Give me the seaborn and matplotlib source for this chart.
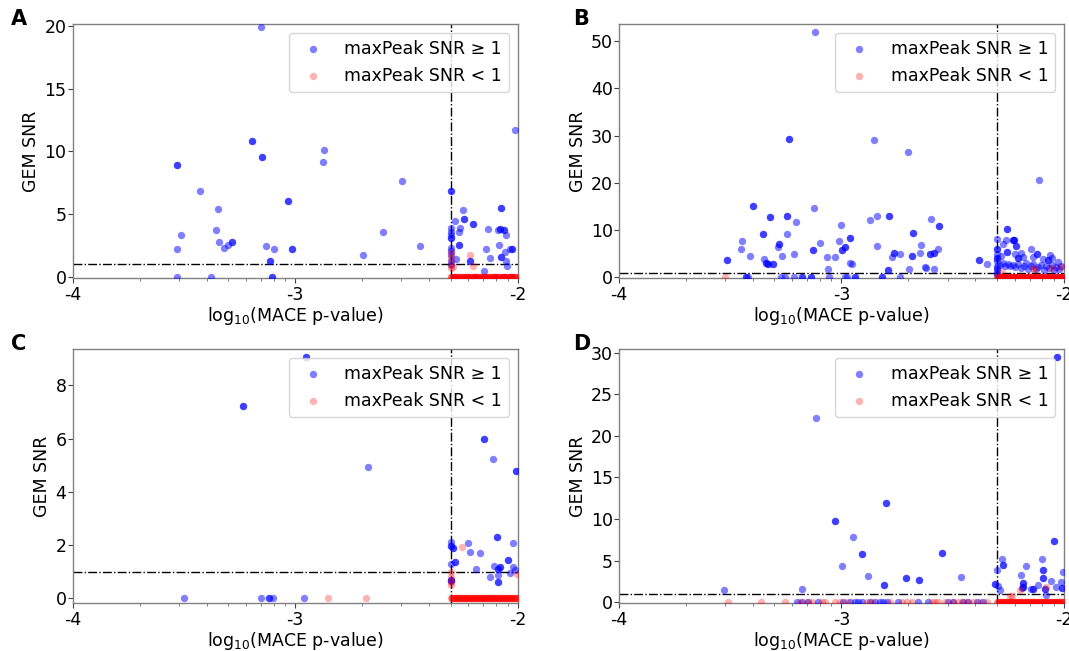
import numpy as np
import matplotlib
matplotlib.use("Agg")
import matplotlib.pyplot as plt
import seaborn as sns
from matplotlib.ticker import FuncFormatter, LogLocator, NullFormatter

sns.set_style("white")
plt.rcParams['font.family'] = ['DejaVu Sans']
plt.rcParams['axes.unicode_minus'] = False
plt.rcParams['text.color'] = 'black'
plt.rcParams['axes.labelcolor'] = 'black'
plt.rcParams['xtick.color'] = 'black'
plt.rcParams['ytick.color'] = 'black'

# ---------------- data (x = log10 MACE p-value, y = GEM SNR) ----------------
# Panel A
A_hi_lp = [-3.533, -3.533, -3.533, -3.533, -3.512, -3.426, -3.378, -3.356, -3.348, -3.344,
           -3.321, -3.303, -3.285, -3.285, -3.194, -3.194, -3.152, -3.149, -3.149, -3.131,
           -3.115, -3.115, -3.106, -3.106, -3.094, -3.031, -3.031, -3.016, -3.016, -2.875,
           -2.870, -2.695, -2.607, -2.521, -2.440,
           -2.300, -2.300, -2.300, -2.300, -2.300, -2.300, -2.300, -2.300, -2.299, -2.300,
           -2.300, -2.300,
           -2.282, -2.264, -2.258, -2.264, -2.264, -2.279, -2.244, -2.241, -2.241, -2.201,
           -2.201, -2.214, -2.214, -2.144, -2.132, -2.125, -2.153, -2.084, -2.087, -2.080,
           -2.080, -2.075, -2.075, -2.075, -2.075, -2.062, -2.062, -2.058, -2.053, -2.053,
           -2.048, -2.036, -2.025, -2.025, -2.012,
           -2.280, -2.230, -2.190, -2.150, -2.100, -2.060, -2.030]
A_hi_snr = [8.94, 8.94, 2.20, 0.00, 3.33, 6.88, 0.00, 3.74, 5.42, 2.79,
            2.28, 2.52, 2.76, 2.76, 10.84, 10.84, 19.92, 9.54, 9.54, 2.47,
            1.27, 1.27, 0.00, 0.00, 2.22, 6.02, 6.02, 2.25, 2.25, 9.16,
            10.14, 1.71, 3.58, 7.62, 2.47,
            6.86, 6.86, 3.85, 3.60, 3.30, 3.05, 3.05, 2.30, 2.05, 1.70,
            1.25, 0.90,
            4.42, 3.58, 3.85, 2.52, 2.52, 1.38, 5.34, 4.61, 4.61, 4.23,
            4.23, 1.22, 1.22, 2.25, 3.79, 1.46, 0.46, 2.52, 3.74, 3.79,
            3.79, 5.50, 5.50, 1.54, 1.54, 3.69, 3.69, 1.98, 3.33, 1.22,
            0.89, 2.20, 2.20, 2.20, 11.73,
            0.0, 0.0, 0.0, 0.0, 0.0, 0.0, 0.0]
A_lo_lp = [-2.216, -2.199, -2.300, -2.300, -2.300, -2.300, -2.289,
           -2.300, -2.294, -2.287, -2.281, -2.274, -2.266, -2.259, -2.252, -2.246, -2.238,
           -2.231, -2.224, -2.217, -2.210, -2.203, -2.196, -2.188, -2.181, -2.174, -2.167,
           -2.160, -2.153, -2.146, -2.139, -2.131, -2.124, -2.117, -2.110, -2.102, -2.095,
           -2.088, -2.081, -2.074, -2.066, -2.059, -2.052, -2.045, -2.038, -2.031, -2.024,
           -2.017, -2.010, -2.004,
           -2.298, -2.291, -2.284, -2.277, -2.270, -2.262, -2.255, -2.249, -2.242, -2.235,
           -2.227, -2.220, -2.213, -2.206, -2.199, -2.192, -2.185, -2.177, -2.170, -2.163,
           -2.157, -2.149, -2.142, -2.135, -2.128, -2.120, -2.113, -2.106, -2.099, -2.091,
           -2.084, -2.077, -2.070, -2.063, -2.056, -2.048, -2.041, -2.034, -2.027, -2.020,
           -2.013, -2.006]
A_lo_snr = [1.71, 0.89, 1.90, 1.50, 1.00, 0.70, 0.80] + [0.0] * 85

# Panel B
B_hi_lp = [-3.516, -3.516, -3.452, -3.447, -3.413, -3.399, -3.399, -3.353, -3.353, -3.350,
           -3.341, -3.341, -3.332, -3.332, -3.323, -3.323, -3.306, -3.306, -3.284, -3.282,
           -3.282, -3.266, -3.245, -3.245, -3.243, -3.237, -3.237, -3.215, -3.203,
           -3.431, -3.431, -3.419, -3.270, -3.254, -3.214, -3.176, -3.176, -3.139, -3.139,
           -3.127, -3.127, -3.122, -3.118, -3.098, -3.067, -3.062, -3.058, -3.030, -3.013,
           -3.002, -2.998, -2.998, -2.985, -2.985, -2.976, -2.985, -2.961, -2.961, -2.960,
           -2.951, -2.941, -2.941, -2.871, -2.856, -2.842, -2.842, -2.820, -2.820, -2.790,
           -2.790, -2.786, -2.786, -2.775, -2.766, -2.766, -2.736, -2.737, -2.701, -2.697,
           -2.683, -2.683, -2.677, -2.677, -2.649, -2.644, -2.624, -2.622, -2.602, -2.602,
           -2.598, -2.585, -2.582, -2.582, -2.565, -2.562, -2.562, -2.384, -2.384, -2.348,
           -2.300, -2.300, -2.300, -2.300, -2.300, -2.300, -2.300, -2.300, -2.300, -2.300,
           -2.300, -2.300,
           -2.255, -2.255, -2.260, -2.275, -2.229, -2.229, -2.224, -2.224, -2.217, -2.217,
           -2.284, -2.258, -2.258, -2.218, -2.207, -2.207, -2.195, -2.183, -2.146, -2.139,
           -2.121, -2.121, -2.110, -2.094, -2.074, -2.074, -2.063, -2.054, -2.027,
           -2.288, -2.276, -2.265, -2.252, -2.241, -2.230, -2.219, -2.206, -2.193, -2.180,
           -2.171, -2.160, -2.149, -2.137, -2.126, -2.115, -2.102, -2.090, -2.079, -2.068,
           -2.056, -2.045, -2.034, -2.022, -2.012,
           -2.292, -2.270, -2.243, -2.214, -2.186, -2.160, -2.131, -2.104, -2.072, -2.041,
           -2.015]
B_hi_snr = [3.67, 3.67, 6.00, 7.70, 4.52, 15.18, 15.18, 9.18, 9.18, 3.88,
            2.97, 2.97, 2.82, 2.82, 12.71, 12.71, 2.82, 2.82, 6.36, 6.99,
            6.99, 4.52, 12.92, 12.92, 9.25, 29.31, 29.31, 5.01, 11.79,
            0.0, 0.0, 0.0, 0.0, 0.0, 0.0, 0.0, 0.0, 0.0, 0.0,
            5.79, 5.79, 14.76, 52.05, 7.27, 4.24, 1.84, 0.0, 4.38, 7.77,
            11.02, 5.79, 5.79, 6.36, 6.36, 0.0, 0.0, 8.40, 8.40, 2.97,
            2.75, 0.0, 0.0, 12.15, 29.03, 6.71, 13.00, 0.0, 0.0, 1.48,
            1.48, 12.92, 12.92, 4.24, 5.23, 5.23, 4.87, 0.0, 26.62, 1.69,
            4.52, 4.52, 9.39, 9.39, 5.08, 6.85, 2.26, 1.91, 4.87, 4.87,
            12.36, 1.77, 5.23, 5.23, 6.00, 10.88, 10.88, 3.67, 3.67, 2.75,
            8.10, 6.00, 6.00, 5.00, 4.00, 4.00, 3.50, 2.50, 2.00, 1.50,
            1.00, 0.50,
            10.31, 10.31, 7.91, 6.99, 7.84, 7.84, 7.84, 7.84, 6.71, 6.71,
            4.52, 5.30, 5.30, 4.94, 4.17, 4.17, 5.23, 4.24, 6.00, 4.24,
            4.94, 4.94, 20.55, 3.81, 3.67, 3.67, 4.73, 4.17, 3.32,
            2.60, 2.97, 2.50, 2.90, 2.30, 2.70, 2.20, 2.80, 1.90, 2.50,
            3.10, 1.80, 2.40, 2.90, 1.70, 2.20, 2.60, 1.60, 2.40, 1.90,
            2.70, 1.50, 2.10, 1.80, 2.30,
            0.0, 0.0, 0.0, 0.0, 0.0, 0.0, 0.0, 0.0, 0.0, 0.0,
            0.0]
B_lo_lp = [-3.525, -2.133, -2.133, -2.057, -2.013, -2.280,
           -2.300, -2.294, -2.287, -2.280, -2.273, -2.266, -2.258, -2.251, -2.244, -2.237,
           -2.230, -2.223, -2.216, -2.208, -2.201, -2.194, -2.187, -2.180, -2.172, -2.165,
           -2.158, -2.151, -2.144, -2.137, -2.130, -2.122, -2.115, -2.108, -2.101, -2.094,
           -2.086, -2.079, -2.072, -2.065, -2.058, -2.050, -2.043, -2.036, -2.029, -2.022,
           -2.015, -2.008, -2.003,
           -2.297, -2.290, -2.283, -2.276, -2.269, -2.262, -2.255, -2.248, -2.240, -2.233,
           -2.226, -2.219, -2.212, -2.205, -2.198, -2.190, -2.183, -2.176, -2.169, -2.162,
           -2.155, -2.147, -2.140, -2.133, -2.126, -2.119, -2.112, -2.105, -2.097, -2.090,
           -2.083, -2.076, -2.069, -2.061, -2.054, -2.047, -2.040, -2.033, -2.026, -2.019,
           -2.011, -2.005]
B_lo_snr = [0.0, 1.69, 1.69, 1.91, 2.12, 1.20] + [0.0] * 85

# Panel C
C_hi_lp = [-3.500, -3.233, -3.233, -3.152, -3.118, -3.118, -3.098, -2.959, -2.953, -2.953,
           -2.671,
           -2.300, -2.300, -2.300, -2.300, -2.300, -2.300, -2.300,
           -2.291, -2.291, -2.282, -2.282, -2.223, -2.214, -2.187, -2.169, -2.150, -2.150,
           -2.126, -2.112, -2.106, -2.093, -2.093, -2.090, -2.090, -2.090, -2.087, -2.087,
           -2.079, -2.079, -2.045, -2.045, -2.035, -2.023, -2.021, -2.007, -2.007, -2.012]
C_hi_snr = [0.0, 7.22, 7.22, 0.0, 0.0, 0.0, 0.0, 0.0, 9.09, 9.09,
            4.95,
            2.10, 1.95, 1.95, 1.27, 0.70, 0.70, 0.65,
            1.89, 1.89, 1.35, 1.35, 2.09, 1.72, 1.10, 1.71, 6.00, 6.00,
            0.78, 5.22, 1.22, 2.31, 2.31, 0.88, 1.10, 1.10, 0.60, 0.60,
            1.17, 1.17, 1.42, 1.42, 0.95, 1.18, 2.07, 4.78, 4.78, 1.07]
C_lo_lp = [-2.852, -2.682, -2.250, -2.004, -2.300, -2.300, -2.300, -2.300,
           -2.300, -2.294, -2.288, -2.281, -2.275, -2.268, -2.262, -2.255, -2.249, -2.242,
           -2.236, -2.229, -2.223, -2.216, -2.210, -2.203, -2.197, -2.190, -2.184, -2.177,
           -2.171, -2.164, -2.158, -2.151, -2.145, -2.138, -2.132, -2.125, -2.119, -2.112,
           -2.106, -2.099, -2.093, -2.086, -2.080, -2.073, -2.067, -2.060, -2.054, -2.047,
           -2.041, -2.034, -2.028, -2.021, -2.015, -2.008, -2.003,
           -2.297, -2.291, -2.284, -2.278, -2.271, -2.265, -2.258, -2.252, -2.245, -2.239,
           -2.232, -2.226, -2.219, -2.213, -2.206, -2.200, -2.193, -2.187, -2.180, -2.174,
           -2.167, -2.161, -2.154, -2.148, -2.141, -2.135, -2.128, -2.122, -2.115, -2.109,
           -2.102, -2.096, -2.089, -2.083, -2.076, -2.070, -2.063, -2.057, -2.050, -2.044,
           -2.037, -2.031, -2.024, -2.018, -2.011, -2.005]
C_lo_snr = [0.0, 0.0, 1.94, 0.92, 1.00, 0.80, 0.60, 0.50] + [0.0] * 93

# Panel D
D_hi_lp = [-3.528, -3.176, -3.113, -3.031, -3.031, -2.998, -2.948, -2.909, -2.909, -2.881,
           -2.807, -2.807, -2.798, -2.798, -2.712, -2.712, -2.652, -2.652, -2.550, -2.550,
           -2.463,
           -2.303, -2.310, -2.310, -2.295, -2.288, -2.280, -2.276, -2.276, -2.195, -2.182,
           -2.182, -2.183, -2.183, -2.170, -2.190, -2.150, -2.138, -2.138, -2.117, -2.100,
           -2.093, -2.093, -2.096, -2.096, -2.085, -2.085, -2.082, -2.058, -2.045, -2.045,
           -2.037, -2.033, -2.033, -2.015, -2.010, -2.010, -2.006,
           -3.201, -3.179, -3.149, -3.104, -2.992, -2.962, -2.939, -2.924, -2.909, -2.872,
           -2.849, -2.827, -2.812, -2.797, -2.745, -2.655, -2.610, -2.520, -2.497, -2.452,
           -2.430, -2.392, -2.362]
D_hi_snr = [1.48, 1.60, 22.10, 9.73, 9.73, 4.33, 7.81, 5.81, 5.81, 3.16,
            2.08, 2.08, 11.93, 11.93, 2.88, 2.88, 2.68, 2.68, 5.89, 5.89,
            3.04,
            3.92, 2.20, 2.20, 1.96, 1.48, 5.21, 4.45, 4.45, 3.24, 2.36,
            2.36, 1.80, 1.80, 4.37, 1.68, 1.60, 1.60, 1.60, 2.08, 5.21,
            3.92, 3.92, 2.88, 2.88, 1.60, 1.60, 0.88, 2.52, 7.41, 7.41,
            1.80, 29.50, 29.50, 2.48, 1.76, 1.76, 3.60] + [0.0] * 23
D_lo_lp = [-2.243, -2.232, -2.198, -2.082,
           -3.509, -3.362, -3.254, -3.187, -3.157, -3.134, -3.089, -3.074, -3.029, -3.007,
           -2.977, -2.887, -2.864, -2.782, -2.730, -2.707, -2.685, -2.595, -2.580, -2.565,
           -2.535, -2.497, -2.475, -2.460, -2.437, -2.407, -2.378, -2.347,
           -2.300, -2.294, -2.287, -2.281, -2.274, -2.267, -2.261, -2.254, -2.247, -2.241,
           -2.234, -2.227, -2.221, -2.214, -2.207, -2.201, -2.194, -2.187, -2.181, -2.174,
           -2.167, -2.161, -2.154, -2.147, -2.141, -2.134, -2.127, -2.121, -2.114, -2.107,
           -2.101, -2.094, -2.087, -2.081, -2.074, -2.067, -2.061, -2.054, -2.047, -2.041,
           -2.034, -2.027, -2.021, -2.014, -2.007, -2.003,
           -2.297, -2.291, -2.284, -2.277, -2.271, -2.264, -2.257, -2.251, -2.244, -2.237,
           -2.231, -2.224, -2.217, -2.211, -2.204, -2.197, -2.191, -2.184, -2.177, -2.171,
           -2.164, -2.157, -2.151, -2.144, -2.137, -2.131, -2.124, -2.117, -2.111, -2.104,
           -2.097, -2.091, -2.084, -2.077, -2.071, -2.064, -2.057, -2.051, -2.044, -2.037,
           -2.031, -2.024, -2.017, -2.011, -2.005]
D_lo_snr = [0.80, 0.80, 1.48, 1.80] + [0.0] * 119

panels = [
    ("A", A_hi_lp, A_hi_snr, A_lo_lp, A_lo_snr, (-0.13, 20.16)),
    ("B", B_hi_lp, B_hi_snr, B_lo_lp, B_lo_snr, (-0.20, 53.6)),
    ("C", C_hi_lp, C_hi_snr, C_lo_lp, C_lo_snr, (-0.19, 9.36)),
    ("D", D_hi_lp, D_hi_snr, D_lo_lp, D_lo_snr, (-0.12, 30.4)),
]
p_cut = 0.005
snr_cut = 1.0

# ---------------- figure ----------------
fig = plt.figure(figsize=(10.69, 6.51), dpi=100)
rects = [[0.068, 0.5725, 0.4163, 0.3902],
         [0.579, 0.5725, 0.4163, 0.3902],
         [0.068, 0.0733, 0.4163, 0.3901],
         [0.579, 0.0733, 0.4163, 0.3901]]
letter_pos = [(0.010, 0.962), (0.536, 0.962), (0.010, 0.462), (0.536, 0.462)]
FS = 12.5

for (name, hx, hy, lx, ly, ylim), rect, lp in zip(panels, rects, letter_pos):
    ax = fig.add_axes(rect)
    sns.scatterplot(x=10 ** np.array(hx), y=np.array(hy), color="blue", alpha=0.5,
                    s=28, linewidth=0, ax=ax, label="maxPeak SNR \u2265 1", zorder=3)
    sns.scatterplot(x=10 ** np.array(lx), y=np.array(ly), color="red", alpha=0.3,
                    s=28, linewidth=0, ax=ax, label="maxPeak SNR < 1", zorder=3)
    ax.set_xscale("log")
    ax.set_xlim(1e-4, 1e-2)
    ax.set_ylim(*ylim)
    ax.axvline(p_cut, color="black", linestyle="-.", linewidth=1.0, zorder=2)
    ax.axhline(snr_cut, color="black", linestyle="-.", linewidth=1.0, zorder=2)
    ax.xaxis.set_major_locator(LogLocator(base=10, numticks=10))
    ax.xaxis.set_minor_locator(LogLocator(base=10, subs=np.arange(2, 10), numticks=10))
    ax.xaxis.set_major_formatter(FuncFormatter(lambda v, pos: f"{int(round(np.log10(v)))}"))
    ax.xaxis.set_minor_formatter(NullFormatter())
    ax.tick_params(axis="both", which="major", labelsize=FS, length=3.5, width=0.8,
                   color="0.25", bottom=True, left=True, direction="out")
    ax.tick_params(axis="x", which="major", pad=2)
    ax.tick_params(axis="y", which="major", pad=1)
    ax.tick_params(axis="x", which="minor", length=2.5, width=0.6, color="0.4", bottom=True)
    for sp in ax.spines.values():
        sp.set_color("0.5")
        sp.set_linewidth(1.0)
    ax.set_xlabel(r"log$_{10}$(MACE p-value)", fontsize=FS, labelpad=1)
    ax.set_ylabel("GEM SNR", fontsize=FS, labelpad=3)
    ax.legend(loc="upper right", fontsize=12.5, frameon=True)
    fig.text(lp[0], lp[1], name, fontsize=15, fontweight="bold", va="baseline", ha="left")

fig.savefig("out.png", dpi=100)
